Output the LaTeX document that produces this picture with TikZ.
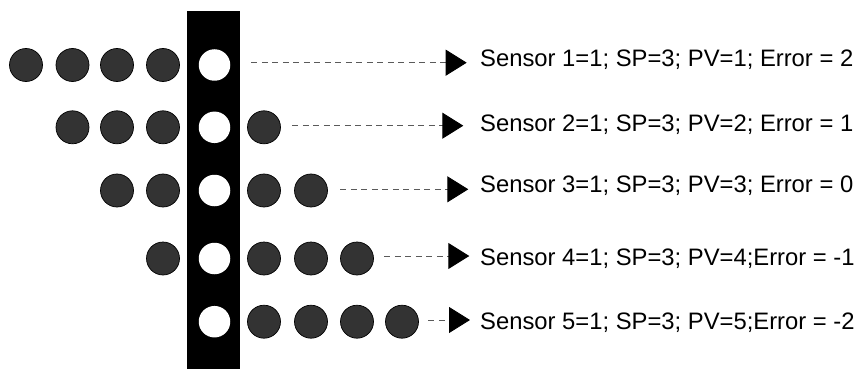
\documentclass[tikz,border=0pt]{standalone}
\usepackage{fontspec}
\setmainfont{Liberation Sans}
\usetikzlibrary{arrows.meta}
\definecolor{ballgray}{HTML}{333333}
\definecolor{dashgray}{HTML}{5A5A5A}
\tikzset{
  ball/.style={circle, draw=black, line width=0.7pt, fill=ballgray, minimum size=33pt, inner sep=0pt},
  hole/.style={circle, fill=white, minimum size=31.5pt, inner sep=0pt},
  reading/.style={anchor=base west, inner sep=0pt, font=\fontsize{23.8}{28}\selectfont},
  flow/.style={draw=dashgray, line width=0.9pt, dash pattern=on 6pt off 4.5pt,
    -{Triangle[length=21pt, width=26pt, color=black]}}
}

\begin{document}
\begin{tikzpicture}[x=1pt, y=-1pt]
  \useasboundingbox (0,0) rectangle (860,369);
  % the bar with one hole per row
  \fill[black] (187,11) rectangle (239.5,369);
  \foreach \r/\y in {1/65, 2/127.3, 3/190.5, 4/258.5, 5/321.7}
    \node[hole] (h\r) at (214.5,\y) {};
  % balls, column number -> x
  \foreach \r/\y/\cols in {1/65/{1,2,3,4}, 2/127.3/{2,3,4,6}, 3/190.5/{3,4,6,7},
                           4/258.5/{4,6,7,8}, 5/321.7/{6,7,8,9}} {
    \foreach \c in \cols {
      \pgfmathsetmacro\x{{26,72.5,117,163,214.5,264,311,357,402}[\c-1]}
      \node[ball] (b\r\c) at (\x,\y) {};
    }
  }
  % readings
  \node[reading] (s1) at (480,66.7)  {Sensor 1=1; SP=3; PV=1; Error = 2};
  \node[reading] (s2) at (480,131.7) {Sensor 2=1; SP=3; PV=2; Error = 1};
  \node[reading] (s3) at (480,192.7) {Sensor 3=1; SP=3; PV=3; Error = 0};
  \node[reading] (s4) at (480,265.7) {Sensor 4=1; SP=3; PV=4;Error = -1};
  \node[reading] (s5) at (480,329.3) {Sensor 5=1; SP=3; PV=5;Error = -2};
  % dashed arrows
  \foreach \r/\from/\gap/\tx/\ty in {1/h1/21/466.7/62.7, 2/b26/11.5/463.3/125.7,
      3/b37/12.5/468.3/189.3, 4/b48/10.5/469.3/256, 5/b59/9.5/470/320} {
    \coordinate (a\r) at (\tx,\ty);
    \draw[flow] ([xshift=\gap pt]a\r -| \from.east) -- (a\r);
  }
\end{tikzpicture}
\end{document}
